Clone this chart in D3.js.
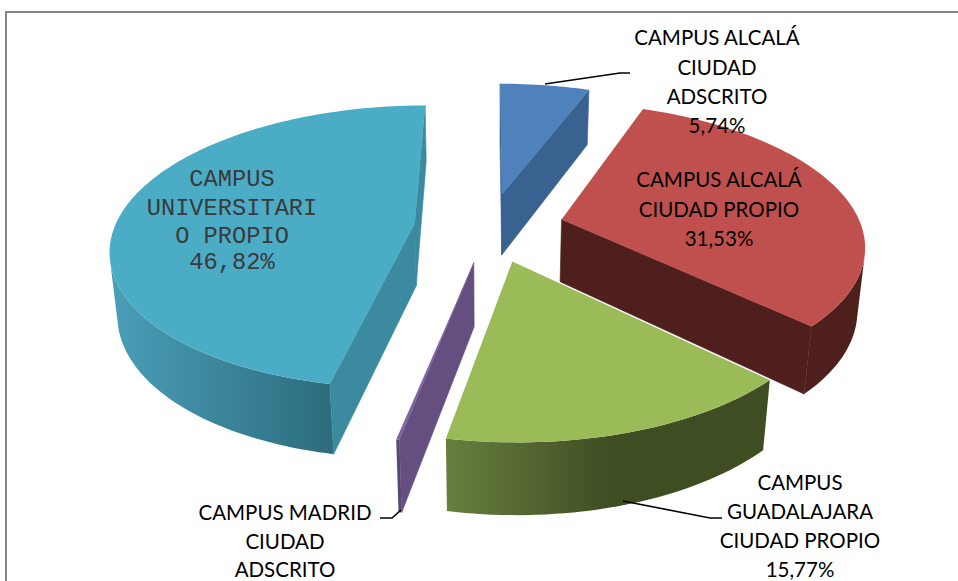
<!DOCTYPE html>
<html>
<head>
<meta charset="utf-8">
<script src="https://cdn.jsdelivr.net/npm/d3@7"></script>
<style>
  body { margin: 0; background: #fff; }
  svg { display: block; }
  .label { font-family: Lato, "Open Sans", sans-serif; font-size: 20.5px; fill: #000; text-anchor: middle; }
  .label-mono { font-family: "Liberation Mono", monospace; font-size: 23.7px; fill: #3a3a3a; text-anchor: middle; }
  .leader { fill: none; stroke: #000; stroke-width: 1.6; }
</style>
</head>
<body>
<div id="wrapper"></div>
<script>
// Data (the last share is cut off in the reference)
const campusNames = [
  "CAMPUS ALCALÁ CIUDAD ADSCRITO",
  "CAMPUS ALCALÁ CIUDAD PROPIO",
  "CAMPUS GUADALAJARA CIUDAD PROPIO",
  "CAMPUS MADRID CIUDAD ADSCRITO",
  "CAMPUS UNIVERSITARIO PROPIO",
];
const campusShares = [5.74, 31.53, 15.77, 0.14, 46.82];
const topColors = ["#4f81bd", "#c0504d", "#9bbb59", "#8064a2", "#4bacc6"];
const wallColors = ["#3a6291", "#4f1f1e", "#3f4d23", "#654e80", "#3c8aa0"];
const rimColorsLeft = ["#3a6291", "#4f1f1e", "#677f3e", "#5a4672", "#4a9fb8"];
const rimColorsRight = ["#3a6291", "#4f1f1e", "#3f4d23", "#5a4672", "#2c6b7d"];

const labelLines = [
  ["CAMPUS ALCALÁ", "CIUDAD", "ADSCRITO", "5,74%"],
  ["CAMPUS ALCALÁ", "CIUDAD PROPIO", "31,53%"],
  ["CAMPUS", "GUADALAJARA", "CIUDAD PROPIO", "15,77%"],
  ["CAMPUS MADRID", "CIUDAD", "ADSCRITO"],
  ["CAMPUS", "UNIVERSITARI", "O PROPIO", "46,82%"],
];

// Layout
const dimensions = { width: 958, height: 581 };
const view = {
  cx: 489, cy: 227, scale: 300, tilt: 0.48, camera: 5.4,
  explode: 0.25, thickness: 0.24,
};
const rimSpans = [[0, 1], [0, 1], [447, 610], [0, 1], [110, 335]];
const labelSpots = [
  { x: 717, ys: [45, 75, 104, 133], cls: "label" },
  { x: 719, ys: [187, 217, 246], cls: "label" },
  { x: 800, ys: [490, 519, 548, 577], cls: "label" },
  { x: 285, ys: [520, 549, 577], cls: "label" },
  { x: 232, ys: [186, 215, 243, 269], cls: "label-mono" },
];
const leaders = [
  [[545, 84], [620, 73], [630, 73]],
  [[623, 501], [710, 518], [722, 518]],
  [[401, 510], [392, 518], [380, 518]],
];
const drawOrder = [0, 1, 4, 3, 2];

const svg = d3.select("#wrapper").append("svg")
  .attr("width", dimensions.width)
  .attr("height", dimensions.height);

// chart frame, the bottom is cut off
svg.append("path")
  .attr("d", "M6,581V12H958")
  .attr("fill", "none")
  .attr("stroke", "#868686")
  .attr("stroke-width", 2);

// left to right shading of the outer sides
const defs = svg.append("defs");
rimSpans.forEach((span, i) => {
  const gradient = defs.append("linearGradient")
    .attr("id", `rim-${i}`)
    .attr("gradientUnits", "userSpaceOnUse")
    .attr("x1", span[0])
    .attr("x2", span[1])
    .attr("y1", 0)
    .attr("y2", 0);
  gradient.append("stop").attr("offset", "0%").attr("stop-color", rimColorsLeft[i]);
  gradient.append("stop").attr("offset", "100%").attr("stop-color", rimColorsRight[i]);
});

// perspective camera over the tilted pie
const sinT = Math.sin(view.tilt);
const cosT = Math.cos(view.tilt);
function project(x, y, z) {
  const up = y * sinT + z * cosT;
  const depth = y * cosT - z * sinT;
  const p = 1 / (1 + depth / view.camera);
  return [view.cx + view.scale * x * p, view.cy - view.scale * up * p];
}

const pie = d3.pie().sort(null).startAngle(0).endAngle(2 * Math.PI);
const arcs = pie(campusShares);
const line = d3.line();

function drawSlice(i) {
  const d = arcs[i];
  const mid = (d.startAngle + d.endAngle) / 2;
  const ox = view.explode * Math.sin(mid);
  const oy = view.explode * Math.cos(mid);
  const rim = (t, z) => project(ox + Math.sin(t), oy + Math.cos(t), z);
  const apex = (z) => project(ox, oy, z);
  const low = -view.thickness;
  const steps = Math.max(2, Math.ceil((d.endAngle - d.startAngle) * 40));
  const angles = d3.range(steps + 1).map(
    (k) => d.startAngle + ((d.endAngle - d.startAngle) * k) / steps
  );
  const g = svg.append("g").attr("class", "slice");

  // outer side, only the part turned to the camera
  const visible = d3.pairs(angles).filter(([a, b]) =>
    d3.polygonArea([rim(a, 0), rim(b, 0), rim(b, low), rim(a, low)]) > 0
  );
  if (visible.length) {
    const sweep = [visible[0][0], ...visible.map((p) => p[1])];
    const band = [
      ...sweep.map((t) => rim(t, 0)),
      ...sweep.slice().reverse().map((t) => rim(t, low)),
    ];
    g.append("path").attr("d", line(band) + "Z").attr("fill", `url(#rim-${i})`);
  }

  // cut faces
  const startWall = [apex(0), rim(d.startAngle, 0), rim(d.startAngle, low), apex(low)];
  const endWall = [apex(0), rim(d.endAngle, 0), rim(d.endAngle, low), apex(low)];
  if (d3.polygonArea(startWall) > 0) {
    g.append("path").attr("d", line(startWall) + "Z")
      .attr("fill", wallColors[i]).attr("stroke", wallColors[i]).attr("stroke-width", 0.6);
  }
  if (d3.polygonArea(endWall) < 0) {
    g.append("path").attr("d", line(endWall) + "Z")
      .attr("fill", wallColors[i]).attr("stroke", wallColors[i]).attr("stroke-width", 0.6);
  }

  // top face
  const top = [apex(0), ...angles.map((t) => rim(t, 0))];
  g.append("path").attr("d", line(top) + "Z").attr("fill", topColors[i]);
}

drawOrder.forEach(drawSlice);

svg.selectAll(".leader")
  .data(leaders)
  .join("path")
  .attr("class", "leader")
  .attr("d", line);

labelLines.forEach((lines, i) => {
  const spot = labelSpots[i];
  svg.append("g")
    .attr("class", "data-label")
    .selectAll("text")
    .data(lines)
    .join("text")
    .attr("class", spot.cls)
    .attr("x", spot.x)
    .attr("y", (d, k) => spot.ys[k])
    .text((d) => d);
});
</script>
</body>
</html>
